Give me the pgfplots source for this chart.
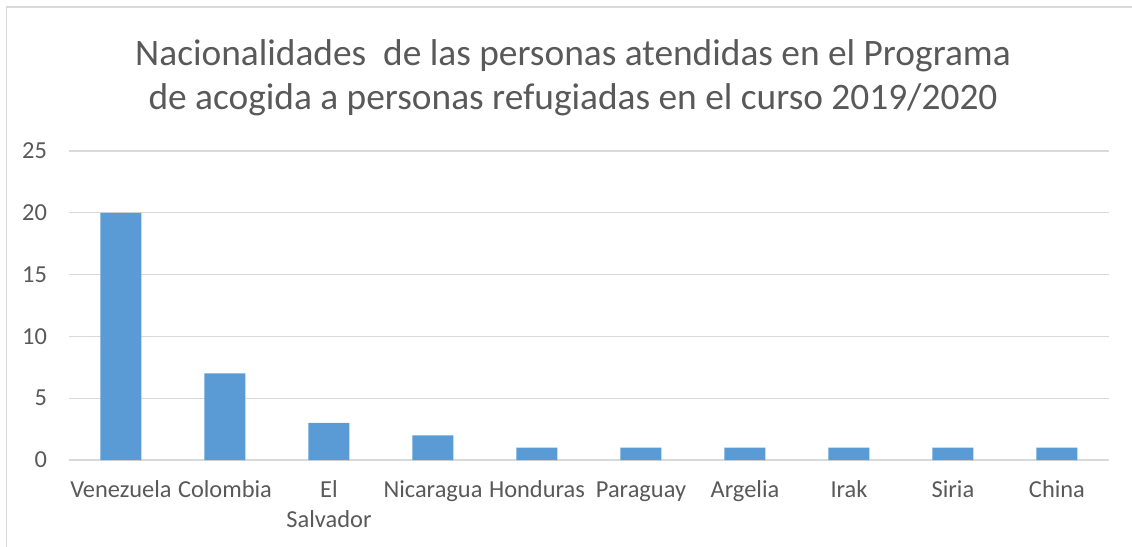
\documentclass[border=0pt]{standalone}
\usepackage{pgfplots}
\pgfplotsset{compat=1.18}
\usepackage{fontspec}
\setmainfont{Carlito}
\definecolor{barblue}{HTML}{5B9BD5}
\definecolor{gridgray}{HTML}{D9D9D9}
\definecolor{txtgray}{HTML}{595959}
\begin{document}
\begin{tikzpicture}
  \path[use as bounding box] (0,0) rectangle (1132bp,547bp);
  \draw[gridgray, line width=1.5bp] (6.5bp,0) -- (6.5bp,540bp) -- (1132bp,540bp);
  \node[txtgray, align=center, font=\fontsize{37.5}{45}\selectfont, anchor=base]
    at (573bp,437bp) {Nacionalidades\ \ de las personas atendidas en el Programa\\de acogida a personas refugiadas en el curso 2019/2020};
  \begin{axis}[
      at={(69bp,87bp)}, anchor=south west,
      scale only axis, width=1040bp, height=309bp,
      ybar, bar width=41bp,
      xmin=-0.5, xmax=9.5, ymin=0, ymax=25,
      xtick=data,
      xticklabels={\strut Venezuela,\strut Colombia,\strut El\\Salvador,\strut Nicaragua,\strut Honduras,\strut Paraguay,\strut Argelia,\strut Irak,\strut Siria,\strut China},
      ytick={0,5,10,15,20,25},
      ymajorgrids, major grid style={gridgray, line width=1.3bp},
      axis line style={draw=none},
      major tick length=0pt,
      tick label style={txtgray, font=\fontsize{24.5}{30}\selectfont},
      xticklabel style={align=center, anchor=north, yshift=-13.5bp},
      yticklabel style={xshift=-18.5bp},
      /pgf/number format/assume math mode=true,
      clip=false,
    ]
    \addplot[fill=barblue, draw=none] coordinates {
      (0,20) (1,7) (2,3) (3,2) (4,1) (5,1) (6,1) (7,1) (8,1) (9,1)};
  \end{axis}
\end{tikzpicture}
\end{document}
